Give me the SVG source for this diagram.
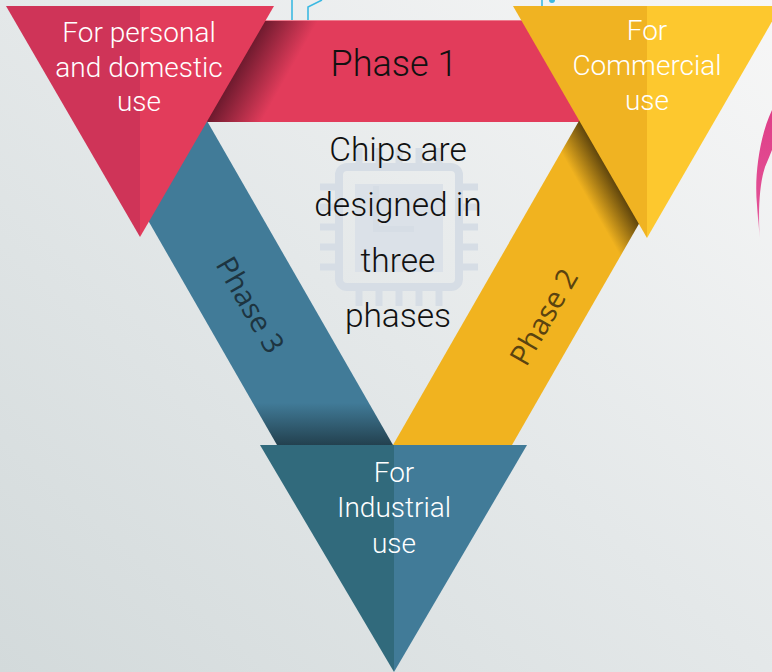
<svg xmlns="http://www.w3.org/2000/svg" width="772" height="672" viewBox="0 0 772 672">
<defs>
<linearGradient id="bg" x1="1" y1="0" x2="0" y2="1">
<stop offset="0" stop-color="#F7F7F7"/>
<stop offset="0.5" stop-color="#E4E8E9"/>
<stop offset="1" stop-color="#D3DADB"/>
</linearGradient>
<linearGradient id="p1shade" gradientUnits="userSpaceOnUse" x1="236" y1="71" x2="277" y2="94">
<stop offset="0" stop-color="#6E1A2E"/>
<stop offset="1" stop-color="#E23C5B"/>
</linearGradient>
<linearGradient id="p2shade" gradientUnits="userSpaceOnUse" x1="614" y1="180" x2="586" y2="196">
<stop offset="0" stop-color="#5E440C"/>
<stop offset="1" stop-color="#F1B31F"/>
</linearGradient>
<linearGradient id="p3shade" gradientUnits="userSpaceOnUse" x1="0" y1="100" x2="0" y2="445">
<stop offset="0" stop-color="#417B98"/>
<stop offset="0.878" stop-color="#417B98"/>
<stop offset="1" stop-color="#23414F"/>
</linearGradient>
<linearGradient id="pink" x1="0" y1="0" x2="0" y2="1">
<stop offset="0" stop-color="#DF3F88"/>
<stop offset="0.8" stop-color="#E35096"/>
<stop offset="1" stop-color="#F0B8D0"/>
</linearGradient>
<style>
.lbl{font-family:Roboto,"Liberation Sans",sans-serif;font-weight:300;text-anchor:middle}
.w{fill:#FFFFFF;font-size:28px}
.k{fill:#111111}
.ph{font-family:"Open Sans","DejaVu Sans",sans-serif;font-size:29px;text-anchor:middle}
.chip{fill:none;stroke:#D6DDE5}
.pin{stroke:#D6DDE5;stroke-width:7}
.wire{fill:none;stroke:#3DB9E2;stroke-width:1.6}
</style>
</defs>
<rect x="0" y="0" width="772" height="672" fill="url(#bg)"/>
<g id="decor">
<path class="wire" d="M292,0 V20 M308,20 V7 L322,0 M542,0 V6"/>
<circle cx="552" cy="0" r="3" fill="#3DB9E2"/>
<path d="M772,110 C760,135 754,175 757,205 C758,220 759,230 760,238 C758,215 759,185 765,167 C768,160 770,155 772,150 Z" fill="url(#pink)"/>
</g>
<g id="chip-icon">
<rect class="chip" x="339" y="167" width="120" height="120" rx="8" stroke-width="8"/>
<rect x="355" y="184" width="88" height="88" fill="#DBE1E8"/>
<path class="chip" d="M376,186 V229 H414" stroke-width="6"/>
<path class="pin" d="M320,187 H335 M320,207 H335 M320,227 H335 M320,247 H335 M320,267 H335 M463,187 H478 M463,207 H478 M463,227 H478 M463,247 H478 M463,267 H478 M359,291 V306 M379,291 V306 M399,291 V306 M419,291 V306 M439,291 V306 M359,148 V163 M379,148 V163 M399,148 V163 M419,148 V163 M439,148 V163"/>
</g>
<g id="connectors">
<g id="phase1-band">
<rect x="200" y="20" width="400" height="102" fill="url(#p1shade)"/>
<line x1="260" y1="20.5" x2="600" y2="20.5" stroke="#EE7C8E" stroke-width="1"/>
<text class="lbl k" x="394" y="76" font-size="36">Phase 1</text>
</g>
<g id="phase3-band">
<polygon points="79,100 195,100 393,445 277,445" fill="url(#p3shade)"/>
<text class="ph" transform="translate(250,305) rotate(60)" x="0" y="10" fill="#1D3440">Phase 3</text>
</g>
<g id="phase2-band">
<polygon points="591,100 710,100 512,445 393,445" fill="url(#p2shade)"/>
<text class="ph" transform="translate(544,317) rotate(-60)" x="0" y="10" fill="#5A4310">Phase 2</text>
</g>
</g>
<g id="node-personal">
<polygon points="6,6 140,6 140,237" fill="#CF3458"/>
<polygon points="140,6 274,6 140,237" fill="#E23C5B"/>
<text class="lbl w" x="139" y="42">For personal</text>
<text class="lbl w" x="139" y="77">and domestic</text>
<text class="lbl w" x="139" y="111">use</text>
</g>
<g id="node-commercial">
<polygon points="513,6 647,6 647,238" fill="#F0B322"/>
<polygon points="647,6 781,6 647,238" fill="#FDC82E"/>
<text class="lbl w" x="647" y="40">For</text>
<text class="lbl w" x="647" y="75">Commercial</text>
<text class="lbl w" x="647" y="110">use</text>
</g>
<g id="node-industrial">
<polygon points="260,445 394,445 394,672" fill="#316A7C"/>
<polygon points="394,445 527,445 394,672" fill="#417B98"/>
<text class="lbl w" x="394" y="482">For</text>
<text class="lbl w" x="394" y="517">Industrial</text>
<text class="lbl w" x="394" y="553">use</text>
</g>
<g id="node-center">
<text class="lbl k" x="398" y="161" font-size="33.5">Chips are</text>
<text class="lbl k" x="398" y="216" font-size="33.5">designed in</text>
<text class="lbl k" x="398" y="272" font-size="33.5">three</text>
<text class="lbl k" x="398" y="327" font-size="33.5">phases</text>
</g>
</svg>
